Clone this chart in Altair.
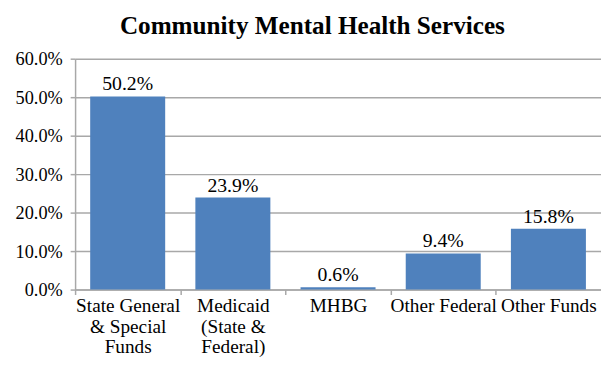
import altair as alt
import pandas as pd

categories = ["State General|& Special|Funds", "Medicaid|(State &|Federal)", "MHBG", "Other Federal", "Other Funds"]
shares = [0.502, 0.239, 0.006, 0.094, 0.158]
y_ticks = [0.0, 0.1, 0.2, 0.3, 0.4, 0.5, 0.6]

df = pd.DataFrame({"category": categories, "share": shares})

FONT = "Liberation Serif"
GRID = "#a8a8a8"
PLOT_W = 533
STEP = PLOT_W / len(categories)
P_INNER = 0.287
HALF_GAP = STEP * P_INNER / 2

x_scale = alt.Scale(domain=categories, paddingInner=P_INNER, paddingOuter=P_INNER / 2)
y_scale = alt.Scale(domain=[0, 0.6], nice=False)

x_axis = alt.Axis(title=None, labelAngle=0, ticks=True, tickSize=5, tickColor=GRID,
                  tickWidth=1.5, bandPosition=0, tickOffset=-HALF_GAP, labelOffset=HALF_GAP,
                  domain=True, domainColor=GRID, domainWidth=1.5,
                  labelExpr="split(datum.label, '|')",
                  labelFont=FONT, labelFontSize=19.5, labelColor="#000000",
                  labelLineHeight=21, labelPadding=2, labelBaseline="top")
y_axis = alt.Axis(title=None, values=y_ticks, format=".1%", grid=True, labelOverlap=False,
                  tickCount=7, gridColor=GRID, gridWidth=1.5, domainColor=GRID, domainWidth=1.5,
                  tickColor=GRID, tickWidth=1.5, tickSize=5, labelPadding=8,
                  labelFont=FONT, labelFontSize=18.5, labelColor="#000000")

bars = alt.Chart(df).mark_bar(color="#4F81BD").encode(
    x=alt.X("category:N", scale=x_scale, sort=categories, axis=x_axis),
    y=alt.Y("share:Q", scale=y_scale, axis=y_axis),
)

labels = alt.Chart(df).mark_text(font=FONT, fontSize=20, color="#000000", baseline="bottom", dy=-2).encode(
    x=alt.X("category:N", scale=x_scale, sort=categories, axis=x_axis),
    y=alt.Y("share:Q", scale=y_scale, axis=y_axis),
    text=alt.Text("share:Q", format=".1%"),
)

chart = alt.layer(bars, labels).properties(
    width=PLOT_W,
    height=234,
    autosize=alt.AutoSizeParams(type="none"),
    padding={"left": 68, "top": 49, "right": 0, "bottom": 70},
    title=alt.TitleParams("Community  Mental  Health  Services", font=FONT, fontSize=25.5,
                          fontWeight="bold", color="#000000", anchor="middle", dx=-26, offset=11),
).configure_view(stroke=None)

chart.save("out.html", embed_options={"renderer": "svg", "actions": False})
